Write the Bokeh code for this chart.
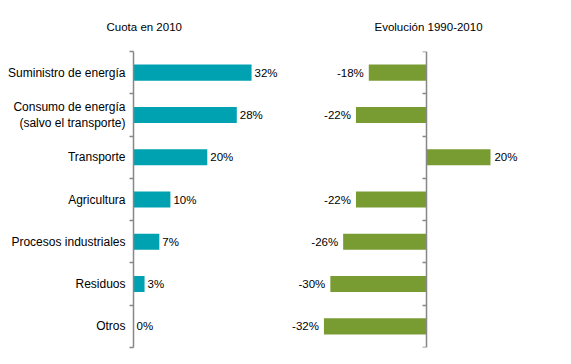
from bokeh.plotting import figure
from bokeh.layouts import row
from bokeh.models import ColumnDataSource, FixedTicker, Range1d
from bokeh.embed import file_html
from bokeh.resources import INLINE

categories = ["Suministro de energía", "Consumo de energía\n(salvo el transporte)",
              "Transporte", "Agricultura", "Procesos industriales", "Residuos", "Otros"]
share_2010 = [32, 28, 20, 10, 7, 3, 0]
change_1990_2010 = [-18, -22, 20, -22, -26, -30, -32]

TEAL = "#00A2B2"
GREEN = "#789C32"
GRAY = "#878787"
FONT = "Liberation Sans"

n = len(categories)
ypos = [n - i - 0.5 for i in range(n)]
bounds = list(range(n + 1))

def pct(v):
    return f"{v}%"

src_l = ColumnDataSource(dict(y=ypos, v=share_2010, lab=[pct(v) for v in share_2010]))
src_r = ColumnDataSource(dict(y=ypos, v=change_1990_2010))

H = 356

def style(p, title_text):
    p.outline_line_color = None
    p.xgrid.visible = False
    p.ygrid.visible = False
    p.background_fill_color = "white"
    p.border_fill_color = "white"
    p.title.text = title_text
    p.title.text_font = FONT
    p.title.text_font_size = "11.5px"
    p.title.text_font_style = "normal"
    p.title.text_color = "black"
    p.title.align = "left"
    p.title.vertical_align = "top"
    p.title.standoff = 34

# Left panel
left = figure(width=285, height=H, output_backend="svg", toolbar_location=None,
              x_range=Range1d(0, 41.2), y_range=Range1d(0, n),
              x_axis_location=None, min_border_top=51, min_border_bottom=9,
              min_border_left=133, min_border_right=0)
style(left, "Cuota en 2010")
left.title.offset = -27
left.hbar(y="y", right="v", left=0, height=0.38, source=src_l, color=TEAL, line_color=None)
left.text(x="v", y="y", text="lab", source=src_l, x_offset=3, text_align="left",
          text_baseline="middle", text_font_size="11.5px", text_font={"value": FONT}, text_color="black")
ya = left.yaxis[0]
ya.ticker = FixedTicker(ticks=ypos, minor_ticks=bounds)
ya.major_label_overrides = {y: c for y, c in zip(ypos, categories)}
ya.major_tick_out = 0
ya.major_tick_in = 0
ya.minor_tick_out = 4
ya.minor_tick_in = 0
ya.minor_tick_line_color = GRAY
ya.axis_line_color = GRAY
ya.axis_line_width = 1.5
ya.minor_tick_line_width = 1.5
ya.major_label_standoff = 4
ya.major_label_text_font = FONT
ya.major_label_text_font_size = "12px"
ya.major_label_text_color = "black"
ya.major_label_text_align = "right"

# Right panel
right = figure(width=278, height=H, output_backend="svg", toolbar_location=None,
               x_range=Range1d(-44.0, 42.8), y_range=Range1d(0, n),
               x_axis_location=None, min_border_top=51, min_border_bottom=9,
               min_border_left=0, min_border_right=0)
style(right, "Evolución 1990-2010")
right.title.offset = 89
right.hbar(y="y", right="v", left=0, height=0.38, source=src_r, color=GREEN, line_color=None)
neg = ColumnDataSource(dict(
    y=[y for y, v in zip(ypos, change_1990_2010) if v < 0],
    v=[v for v in change_1990_2010 if v < 0],
    lab=[pct(v) for v in change_1990_2010 if v < 0]))
posv = ColumnDataSource(dict(
    y=[y for y, v in zip(ypos, change_1990_2010) if v >= 0],
    v=[v for v in change_1990_2010 if v >= 0],
    lab=[pct(v) for v in change_1990_2010 if v >= 0]))
right.text(x="v", y="y", text="lab", source=neg, x_offset=-5, text_align="right",
           text_baseline="middle", text_font_size="11.5px", text_font={"value": FONT}, text_color="black")
right.text(x="v", y="y", text="lab", source=posv, x_offset=4, text_align="left",
           text_baseline="middle", text_font_size="11.5px", text_font={"value": FONT}, text_color="black")
yb = right.yaxis[0]
yb.fixed_location = 0
yb.ticker = FixedTicker(ticks=[], minor_ticks=bounds)
yb.major_label_text_font_size = "0px"
yb.major_tick_out = 0
yb.major_tick_in = 0
yb.minor_tick_out = 4
yb.minor_tick_in = 0
yb.minor_tick_line_color = GRAY
yb.axis_line_color = GRAY
yb.axis_line_width = 1.5
yb.minor_tick_line_width = 1.5

layout = row(left, right, spacing=0)
open("out.html", "w").write(file_html(layout, INLINE))
